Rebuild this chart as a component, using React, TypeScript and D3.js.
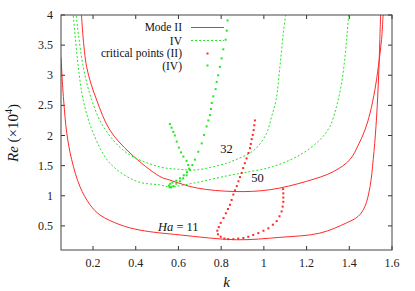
import React from "react"
import * as d3 from "d3"

// tick values
const kTicks = [0.2, 0.4, 0.6, 0.8, 1, 1.2, 1.4, 1.6]
const reTicks = [0.5, 1, 1.5, 2, 2.5, 3, 3.5, 4]

// Mode II neutral curves [k, Re x1e4]
const modeIIHa11 = [
  [0.05, 3.3], [0.061, 2.65], [0.077, 2.04], [0.1, 1.6], [0.139, 1.15], [0.186, 0.85],
  [0.233, 0.68], [0.326, 0.52], [0.42, 0.43], [0.607, 0.35], [0.873, 0.27], [1.075, 0.31],
  [1.262, 0.38], [1.387, 0.55], [1.442, 0.66], [1.473, 0.82], [1.497, 1.15], [1.512, 1.6],
  [1.525, 2.15], [1.536, 2.87], [1.543, 3.59], [1.547, 4.05],
]
const modeIIHa50 = [
  [0.145, 4.05], [0.17, 3.14], [0.217, 2.59], [0.279, 2.09], [0.373, 1.71], [0.513, 1.32],
  [0.56, 1.26], [0.685, 1.13], [0.865, 1.07], [1.028, 1.1], [1.2, 1.24], [1.325, 1.4],
  [1.403, 1.6], [1.442, 1.84], [1.473, 2.09], [1.497, 2.37], [1.52, 2.76], [1.536, 3.14],
  [1.551, 3.59], [1.559, 4.05],
]

// Mode IV neutral curves
const modeIVHa32 = [
  [0.119, 4.05], [0.154, 3.14], [0.194, 2.59], [0.248, 2.15], [0.358, 1.71], [0.513, 1.48],
  [0.6, 1.44], [0.685, 1.43], [0.826, 1.54], [0.855, 1.58], [0.935, 1.71], [0.972, 1.82],
  [1.013, 2.04], [1.036, 2.31], [1.057, 2.59], [1.075, 3.14], [1.091, 3.7], [1.104, 4.05],
]
const modeIVHa50 = [
  [0.106, 4.05], [0.131, 3.14], [0.154, 2.59], [0.201, 2.04], [0.279, 1.54], [0.404, 1.24],
  [0.513, 1.18], [0.56, 1.15], [0.685, 1.22], [0.826, 1.33], [0.935, 1.4], [1.028, 1.47],
  [1.107, 1.57], [1.184, 1.71], [1.263, 1.93], [1.309, 2.15], [1.34, 2.48], [1.364, 2.87],
  [1.38, 3.31], [1.39, 3.7], [1.398, 4.05],
]

// critical points
const criticalII = [
  [0.958, 2.25], [0.955, 2.17], [0.952, 2.09], [0.948, 2.01], [0.943, 1.94], [0.939, 1.86],
  [0.935, 1.79], [0.928, 1.71], [0.919, 1.62], [0.911, 1.54], [0.903, 1.46], [0.896, 1.38],
  [0.888, 1.31], [0.881, 1.24], [0.873, 1.16], [0.865, 1.09], [0.857, 1.02], [0.849, 0.93],
  [0.841, 0.85], [0.832, 0.78], [0.822, 0.71], [0.811, 0.63], [0.798, 0.55], [0.789, 0.48],
  [0.782, 0.42], [0.785, 0.36], [0.798, 0.32], [0.815, 0.29], [0.833, 0.28], [0.857, 0.28],
  [0.88, 0.29], [0.904, 0.3], [0.927, 0.32], [0.95, 0.35], [0.974, 0.38], [0.998, 0.42],
  [1.021, 0.46], [1.042, 0.52], [1.06, 0.58], [1.073, 0.66], [1.083, 0.74], [1.088, 0.82],
  [1.091, 0.9], [1.091, 0.97], [1.091, 1.04], [1.09, 1.11],
]
const criticalIV = [
  [0.83, 3.91], [0.826, 3.74], [0.821, 3.59], [0.81, 3.43], [0.802, 3.28], [0.794, 3.14],
  [0.786, 3.0], [0.779, 2.89], [0.774, 2.77], [0.763, 2.65], [0.756, 2.54], [0.752, 2.44],
  [0.748, 2.34], [0.74, 2.25], [0.732, 2.15], [0.72, 2.01], [0.709, 1.87], [0.693, 1.73],
  [0.677, 1.6], [0.665, 1.51], [0.654, 1.43], [0.638, 1.34], [0.622, 1.29], [0.607, 1.24],
  [0.59, 1.2], [0.576, 1.16], [0.566, 1.14], [0.558, 1.14], [0.556, 1.17], [0.562, 1.2],
  [0.572, 1.22], [0.59, 1.25], [0.607, 1.29], [0.625, 1.34], [0.64, 1.39], [0.65, 1.45],
  [0.646, 1.51], [0.638, 1.58], [0.623, 1.65], [0.612, 1.72], [0.602, 1.8], [0.592, 1.9],
  [0.583, 2.0], [0.576, 2.06], [0.568, 2.13], [0.56, 2.19],
]

const curveLabels = [
  { k: 0.825, re: 1.77, text: "32" },
  { k: 0.97, re: 1.3, text: "50" },
]

const RED = "#ff2a2a"
const GREEN = "#22e622"
const FONT = "Liberation Serif"

const App = () => {
  const left = 61
  const right = 392
  const top = 15
  const bottom = 250

  const x = d3.scaleLinear().domain([0.05, 1.6]).range([left, right])
  const y = d3.scaleLinear().domain([0.1, 4]).range([bottom, top])

  const line = d3
    .line<number[]>()
    .x((d) => x(d[0]))
    .y((d) => y(d[1]))
    .curve(d3.curveCatmullRom.alpha(0.5))

  const fmt = (v: number) => String(v)

  return (
    <svg
      width={415}
      height={291}
      style={{ position: "fixed", left: 0, top: 0, background: "#fff" }}
    >
      <defs>
        <clipPath id="plot-clip">
          <rect x={left} y={top} width={right - left} height={bottom - top} />
        </clipPath>
      </defs>

      {/* ticks, mirrored on all sides */}
      <g stroke="#333" strokeWidth={1}>
        {kTicks.map((t) => (
          <g key={"kt" + t}>
            <line x1={x(t)} x2={x(t)} y1={bottom} y2={bottom - 4} />
            <line x1={x(t)} x2={x(t)} y1={top} y2={top + 4} />
          </g>
        ))}
        {reTicks.map((t) => (
          <g key={"rt" + t}>
            <line x1={left} x2={left + 4} y1={y(t)} y2={y(t)} />
            <line x1={right} x2={right - 4} y1={y(t)} y2={y(t)} />
          </g>
        ))}
      </g>

      <g fontSize={12} fill="#222" fontFamily={FONT}>
        {kTicks.map((t) => (
          <text key={"kl" + t} x={x(t)} y={267} textAnchor="middle">
            {fmt(t)}
          </text>
        ))}
        {reTicks.map((t) => (
          <text key={"rl" + t} x={53} y={y(t) + 4} textAnchor="end">
            {fmt(t)}
          </text>
        ))}
      </g>

      <g clipPath="url(#plot-clip)" fill="none">
        <path d={line(modeIIHa11) || ""} stroke={RED} strokeWidth={1} />
        <path d={line(modeIIHa50) || ""} stroke={RED} strokeWidth={1} />
        <path d={line(modeIVHa32) || ""} stroke={GREEN} strokeWidth={1} strokeDasharray="2,2" />
        <path d={line(modeIVHa50) || ""} stroke={GREEN} strokeWidth={1} strokeDasharray="2,2" />
        {criticalII.map((d, i) => (
          <rect key={"c2" + i} x={x(d[0]) - 1} y={y(d[1]) - 1} width={2} height={2} fill={RED} />
        ))}
        {criticalIV.map((d, i) => (
          <rect key={"c4" + i} x={x(d[0]) - 1} y={y(d[1]) - 1} width={2} height={2} fill={GREEN} />
        ))}
      </g>

      <rect
        x={left}
        y={top}
        width={right - left}
        height={bottom - top}
        fill="none"
        stroke="#444"
        strokeWidth={1}
      />

      {/* curve labels */}
      <g fontSize={12.5} fill="#111" fontFamily={FONT}>
        <text x={158} y={231}>
          <tspan fontStyle="italic">Ha</tspan>
          <tspan> = 11</tspan>
        </text>
        {curveLabels.map((l) => (
          <text key={l.text} x={x(l.k)} y={y(l.re) + 4} textAnchor="middle">
            {l.text}
          </text>
        ))}
      </g>

      {/* legend */}
      <g fontSize={11.5} fill="#111" fontFamily={FONT}>
        <text x={182} y={31} textAnchor="end">Mode II</text>
        <line x1={191} x2={224} y1={27.5} y2={27.5} stroke={RED} strokeWidth={1} />
        <text x={182} y={44.5} textAnchor="end">IV</text>
        <line x1={191} x2={224} y1={40.5} y2={40.5} stroke={GREEN} strokeWidth={1} strokeDasharray="2,2" />
        <text x={182} y={57} textAnchor="end">critical points (II)</text>
        <rect x={206.5} y={52.5} width={2} height={2} fill={RED} />
        <text x={182} y={69.5} textAnchor="end">(IV)</text>
        <rect x={206.5} y={64.5} width={2} height={2} fill={GREEN} />
      </g>

      {/* axis titles */}
      <text x={226.5} y={287} textAnchor="middle" fontSize={15} fontStyle="italic" fill="#111" fontFamily={FONT}>
        k
      </text>
      <text transform="translate(18,133) rotate(-90)" textAnchor="middle" fontSize={15} fill="#111" fontFamily={FONT}>
        <tspan fontStyle="italic">Re</tspan>
        <tspan> (×10</tspan>
        <tspan dy={-6} fontSize={10}>4</tspan>
        <tspan dy={6}>)</tspan>
      </text>
    </svg>
  )
}

export default App
